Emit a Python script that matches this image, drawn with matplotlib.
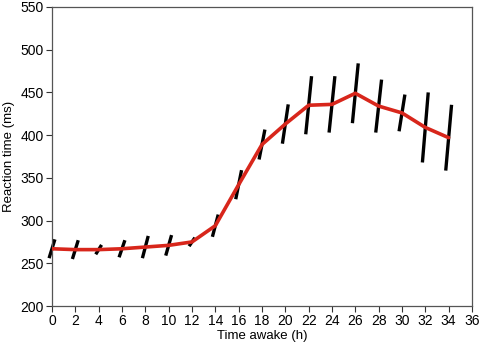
import numpy as np
import matplotlib
matplotlib.use("Agg")
import matplotlib.pyplot as plt

plt.rcParams["font.family"] = ["Liberation Sans", "DejaVu Sans"]

# hours awake and mean reaction time (ms)
hours = [0, 2, 4, 6, 8, 10, 12, 14, 16, 18, 20, 22, 24, 26, 28, 30, 32, 34]
rt_mean = [267, 266, 266, 267, 269, 271, 275, 294, 342, 389, 413, 435, 436, 449, 434, 426, 409, 397]
# half-length of each error bar (ms)
rt_err = [11, 11, 5.5, 10, 13, 12, 5, 13, 17, 17.5, 23, 34, 33, 35, 31, 21.5, 41, 38.5]

x_ticks = list(range(0, 37, 2))
y_ticks = list(range(200, 551, 50))

fig = plt.figure(figsize=(4.8, 3.46), dpi=100)
ax = fig.add_axes([0.1083, 0.1156, 0.875, 0.8642])

# slanted error bars, as in the original figure
slant = 0.25
for x, y, e in zip(hours, rt_mean, rt_err):
    ax.plot([x - slant, x + slant], [y - e, y + e], color="black", lw=2.4,
            solid_capstyle="butt", zorder=2, clip_on=False)

ax.plot(hours, rt_mean, color="#d8261b", lw=2.6, solid_joinstyle="round",
        solid_capstyle="round", zorder=3)

ax.set_xlim(0, 36)
ax.set_ylim(200, 550)
ax.set_xticks(x_ticks)
ax.set_yticks(y_ticks)
ax.tick_params(direction="out", length=4, width=0.8, colors="#333333",
               labelcolor="black", labelsize=10, pad=2)
for sp in ax.spines.values():
    sp.set_color("#555555")
    sp.set_linewidth(0.9)

ax.set_xlabel("Time awake (h)", fontsize=9.5, labelpad=1)
ax.set_ylabel("Reaction time (ms)", fontsize=9.5, labelpad=4)

fig.savefig("out.png", dpi=100)
